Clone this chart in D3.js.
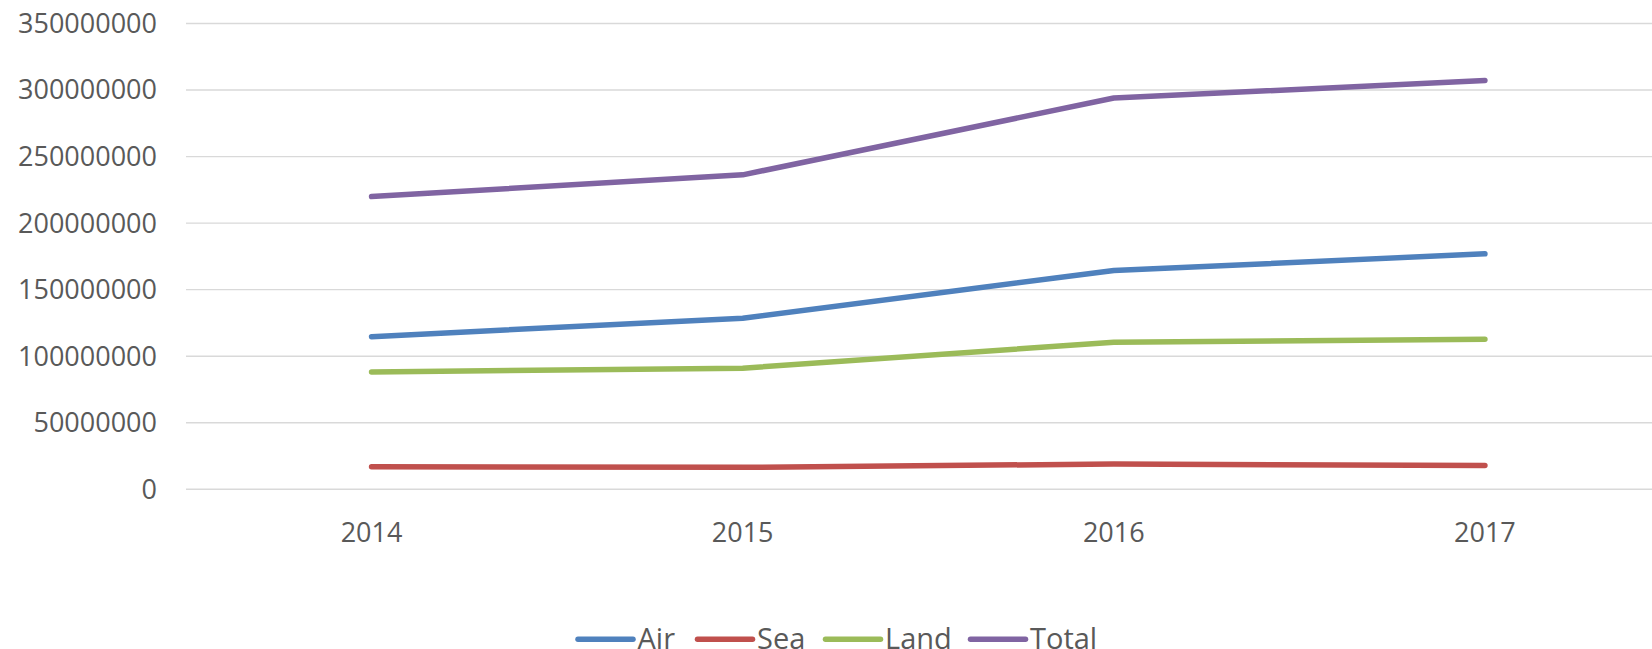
<!DOCTYPE html>
<html>
<head>
<meta charset="utf-8">
<script src="https://cdn.jsdelivr.net/npm/d3@7"></script>
<style>
  html, body { margin: 0; padding: 0; background: #fff; overflow: hidden; }
  svg { display: block; font-family: "Open Sans", "Noto Sans", sans-serif; }
</style>
</head>
<body>
<div id="chart"></div>
<script>
'use strict'
// data
var years = ['2014', '2015', '2016', '2017']
var air = [114700000, 128600000, 164400000, 176900000]
var sea = [17000000, 16500000, 19000000, 17800000]
var land = [88200000, 91000000, 110500000, 112800000]
var total = [220000000, 236300000, 294000000, 307200000]
var yTicks = [0, 50000000, 100000000, 150000000, 200000000, 250000000, 300000000, 350000000]

var series = [
  { name: 'Air', values: air, color: '#4f81bd' },
  { name: 'Sea', values: sea, color: '#c0504d' },
  { name: 'Land', values: land, color: '#9bbb59' },
  { name: 'Total', values: total, color: '#8064a2' }
]

var W = 1652, H = 649
var svg = d3.select('#chart').append('svg')
  .attr('width', W)
  .attr('height', H)

// plot area runs a little past the right edge, as in the reference
var x = d3.scaleBand().domain(years).range([186, 1670.5]).padding(0)
var y = d3.scaleLinear().domain([0, 350000000]).range([489.3, 23.5])
var cx = d => x(d) + x.bandwidth() / 2

// gridlines
svg.append('g')
  .selectAll('line')
  .data(yTicks)
  .join('line')
  .attr('x1', 186)
  .attr('x2', W)
  .attr('y1', d => y(d))
  .attr('y2', d => y(d))
  .attr('stroke', '#d9d9d9')
  .attr('stroke-width', 1.4)

// y labels
svg.append('g')
  .selectAll('text')
  .data(yTicks)
  .join('text')
  .attr('x', 157)
  .attr('y', d => y(d))
  .attr('dy', '0.35em')
  .attr('text-anchor', 'end')
  .attr('font-size', 27)
  .attr('fill', '#595959')
  .text(d => d3.format('d')(d))

// x labels
svg.append('g')
  .selectAll('text')
  .data(years)
  .join('text')
  .attr('x', d => cx(d))
  .attr('y', 541.5)
  .attr('text-anchor', 'middle')
  .attr('font-size', 27)
  .attr('fill', '#595959')
  .text(d => d)

// lines
var line = d3.line()
  .x((d, i) => cx(years[i]))
  .y(d => y(d))

svg.append('g')
  .selectAll('path')
  .data(series)
  .join('path')
  .attr('d', s => line(s.values))
  .attr('fill', 'none')
  .attr('stroke', s => s.color)
  .attr('stroke-width', 5.5)
  .attr('stroke-linecap', 'round')
  .attr('stroke-linejoin', 'round')

// legend (cut off at the bottom edge, like the reference)
var legendX = [578, 697.5, 825.5, 970.5]
var lg = svg.append('g')
  .selectAll('g')
  .data(series)
  .join('g')
  .attr('transform', (s, i) => `translate(${legendX[i]},639.3)`)
lg.append('line')
  .attr('x1', 0)
  .attr('x2', 55)
  .attr('stroke', s => s.color)
  .attr('stroke-width', 5.5)
  .attr('stroke-linecap', 'round')
lg.append('text')
  .attr('x', 59.5)
  .attr('y', 9.7)
  .attr('font-size', 29)
  .attr('fill', '#595959')
  .text(s => s.name)
</script>
</body>
</html>
